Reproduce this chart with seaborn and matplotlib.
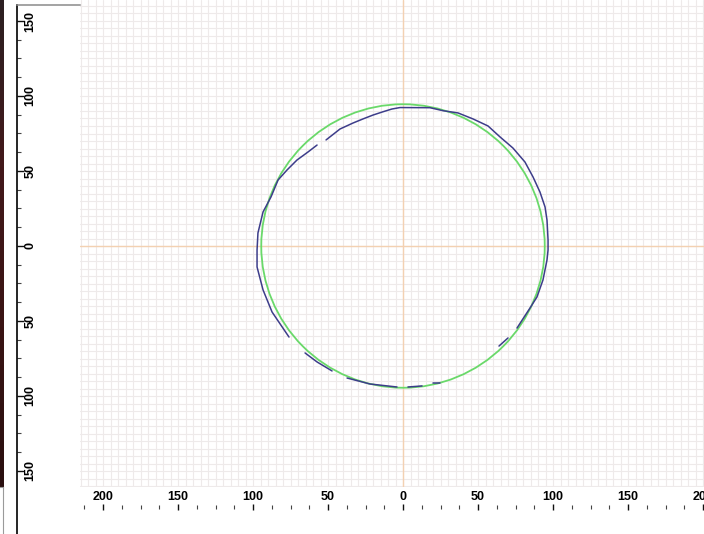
import numpy as np
import pandas as pd
import matplotlib.pyplot as plt
import seaborn as sns
from matplotlib.patches import Circle
from matplotlib.ticker import MultipleLocator
from matplotlib.colors import LinearSegmentedColormap

# measured contour, one entry per traced point; seg = unbroken piece of the trace
trace_x = [-51.3, -42.0, -33.3, -26.7, -20.0, -13.3, -7.5, -2.0, 18.0, 26.7, 36.7,
           46.7, 56.7, 64.7, 73.3, 81.3, 86.7, 91.3, 94.7, 96.0, 96.7, 96.7, 96.0,
           93.3, 89.3, 84.7, 76.0,
           -57.3, -63.3, -70.7, -77.3, -83.3, -88.0, -93.3, -96.7, -97.3, -97.3,
           -93.3, -87.3, -76.0,
           -65.3, -57.3, -47.3,
           -37.3, -22.0, -4.0,
           3.3, 12.7,
           20.0, 24.7,
           64.0, 70.0]
trace_y = [70.7, 78.0, 82.0, 84.7, 87.3, 89.5, 91.3, 92.3, 92.2, 90.2, 88.7,
           84.7, 80.0, 72.7, 65.3, 56.0, 46.0, 36.0, 26.0, 17.3, 4.0, -2.7, -9.3,
           -22.7, -34.0, -41.3, -54.7,
           67.3, 62.7, 57.3, 50.7, 44.0, 32.7, 22.7, 8.7, -2.7, -14.0,
           -29.3, -44.0, -60.7,
           -71.3, -77.3, -83.3,
           -88.0, -92.0, -94.0,
           -94.0, -93.3,
           -91.3, -91.3,
           -66.7, -61.3]
trace_seg = [1] * 27 + [2] * 13 + [3] * 3 + [4] * 3 + [5] * 2 + [6] * 2 + [7] * 2

# fitted circle
fit_cx, fit_cy, fit_r = 0.0, 0.0, 94.5

x_major = [-200, -150, -100, -50, 0, 50, 100, 150, 200]
y_major = [-150, -100, -50, 0, 50, 100, 150]
x_labels = [str(abs(v)) for v in x_major]
y_labels = [str(abs(v)) for v in y_major]

sns.set_theme(style="white")
plt.rcParams["font.family"] = ["Liberation Sans", "DejaVu Sans"]

W, H = 704, 534
S = 1.5            # pixels per unit
OX, OY = 403, 246  # origin in pixels

fig = plt.figure(figsize=(W / 100, H / 100), dpi=100)
fig.patch.set_facecolor("white")


def px_axes(x0, y0, x1, y1):
    return fig.add_axes([x0 / W, 1 - y1 / H, (x1 - x0) / W, (y1 - y0) / H])


# main plotting area
ax = px_axes(80, 0, 704, 487)
ax.set_xlim((80 - OX) / S, (704 - OX) / S)
ax.set_ylim((OY - 487) / S, OY / S)
ax.xaxis.set_major_locator(MultipleLocator(5))
ax.yaxis.set_major_locator(MultipleLocator(5))
ax.grid(True, color="#eeeaea", linewidth=0.8)
ax.tick_params(left=False, bottom=False, labelleft=False, labelbottom=False)
for sp in ax.spines.values():
    sp.set_visible(False)
ax.axhline(fit_cy, color="#f3d1b2", linewidth=1.0, zorder=1)
ax.axvline(fit_cx, color="#f3d1b2", linewidth=1.0, zorder=1)

ax.add_patch(Circle((fit_cx, fit_cy), fit_r, fill=False, edgecolor="#6ad96a",
                    linewidth=1.3, zorder=3))

df = pd.DataFrame({"x": trace_x, "y": trace_y, "seg": trace_seg})
sns.lineplot(data=df, x="x", y="y", units="seg", estimator=None, sort=False,
             color="#3d3d8a", linewidth=1.1, ax=ax, zorder=4)
ax.set_xlabel("")
ax.set_ylabel("")

# bottom ruler
axx = px_axes(80, 488, 704, 506.5)
axx.set_xlim(ax.get_xlim())
axx.set_ylim(0, 1)
axx.patch.set_alpha(0)
for sp in axx.spines.values():
    sp.set_visible(False)
axx.set_xticks(x_major, labels=x_labels)
axx.set_xticks(np.arange(-212.5, 201, 12.5), minor=True)
axx.tick_params(axis="x", which="major", bottom=True, direction="inout", length=5,
                width=1.0, color="#111111", pad=-13.5, labelsize=9,
                labelcolor="black")
axx.tick_params(axis="x", which="minor", bottom=True, direction="inout", length=3,
                width=0.8, color="#444444")
axx.tick_params(axis="y", left=False, labelleft=False)
for t in axx.get_xticklabels():
    t.set_fontweight("bold")

# left ruler
axy = px_axes(17, 5, 80, 534)
axy.set_xlim(0, 1)
axy.set_ylim((OY - 534) / S, (OY - 5) / S)
axy.patch.set_alpha(0)
axy.spines["right"].set_visible(False)
axy.spines["bottom"].set_visible(False)
axy.spines["left"].set_color("black")
axy.spines["left"].set_linewidth(1.2)
axy.spines["top"].set_color("#8a8a8a")
axy.spines["top"].set_linewidth(1.1)
axy.set_yticks(y_major, labels=y_labels)
axy.set_yticks(np.arange(-150, 151, 12.5), minor=True)
axy.tick_params(axis="y", which="major", left=True, direction="in", length=5,
                width=1.0, color="#111111", pad=-9.7, labelsize=9,
                labelcolor="black")
axy.tick_params(axis="y", which="minor", left=True, direction="in", length=3.2,
                width=0.8, color="#444444")
axy.tick_params(axis="x", bottom=False, labelbottom=False)
for t in axy.get_yticklabels():
    t.set_fontweight("bold")
    t.set_rotation(90)
    t.set_horizontalalignment("center")
    t.set_verticalalignment("center")

# dark strip at the left edge
axs = px_axes(0, 0, 4, 487)
cmap = LinearSegmentedColormap.from_list("strip", ["#2c2022", "#43191b", "#3a1414", "#2a1010"])
axs.imshow(np.linspace(0, 1, 64).reshape(-1, 1), aspect="auto", cmap=cmap)
axs.axis("off")

# small frame under the strip
axb = px_axes(-2, 487, 3, 536)
axb.patch.set_alpha(0)
axb.set_xticks([])
axb.set_yticks([])
for side, sp in axb.spines.items():
    sp.set_color("#9a9a9a")
    sp.set_linewidth(0.8)
    sp.set_visible(side in ("right", "top"))

fig.savefig("out.png", dpi=100)
